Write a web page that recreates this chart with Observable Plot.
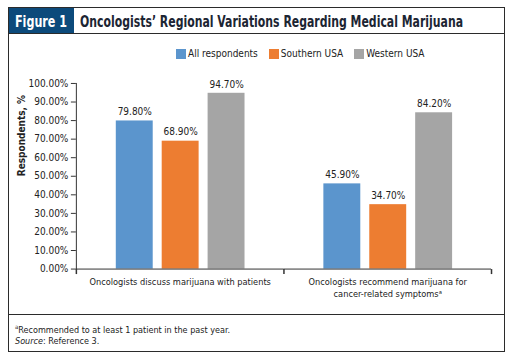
<!DOCTYPE html>
<html><head><meta charset="utf-8">
<script src="https://cdn.jsdelivr.net/npm/d3@7"></script>
<script src="https://cdn.jsdelivr.net/npm/@observablehq/plot@0.6"></script>
<style>
html,body{margin:0;padding:0;background:#fff;}
body{width:513px;height:358px;position:relative;overflow:hidden;font-family:"DejaVu Sans Condensed",sans-serif;color:#222;}
#frame{position:absolute;left:8px;top:7px;width:497px;height:345px;box-sizing:border-box;border:1px solid #2b2b2b;}
#header{position:absolute;left:0;top:0;right:0;height:25px;border-bottom:1px solid #2b2b2b;}
#badge{position:absolute;left:0;top:0;width:65px;height:25px;background:#0c4a7b;}
#badgeText{position:absolute;left:6px;top:4px;color:#fff;font-weight:bold;font-size:16px;white-space:nowrap;transform-origin:0 0;}
#title{position:absolute;left:71px;top:4px;font-weight:bold;font-size:16px;color:#1c2533;white-space:nowrap;transform-origin:0 0;}
#legend{position:absolute;left:167px;top:40px;display:flex;font-size:10px;white-space:nowrap;}
.item{display:flex;align-items:center;margin-right:11px;}
.sw{width:10px;height:10px;margin-right:2px;}
#chart{position:absolute;left:0;top:54px;}
#footer{position:absolute;left:0;right:0;top:306px;border-top:1px solid #2b2b2b;font-size:9px;padding-left:6px;}
#footer div{height:14px;line-height:14px;white-space:nowrap;}
#footer .f1{margin-top:5px;}
</style></head>
<body>
<div id="frame">
  <div id="header"><div id="badge"><span id="badgeText">Figure 1</span></div><span id="title">Oncologists’ Regional Variations Regarding Medical Marijuana</span></div>
  <div id="legend"></div>
  <div id="chart"></div>
  <div id="footer"><div class="f1"><sup style="font-size:6px">a</sup>Recommended to at least 1 patient in the past year.</div><div><i>Source</i>: Reference 3.</div></div>
</div>
<script>
const groups = ["Oncologists discuss marijuana with patients", "Oncologists recommend marijuana for\ncancer-related symptomsᵃ"];
const series = ["All respondents", "Southern USA", "Western USA"];
const colors = ["#5b95cd", "#ed7d31", "#a5a5a5"];
const allRespondents = [0.798, 0.459];
const southernUSA = [0.689, 0.347];
const westernUSA = [0.947, 0.842];
const yTicks = [0, 0.1, 0.2, 0.3, 0.4, 0.5, 0.6, 0.7, 0.8, 0.9, 1.0];

const seriesValues = [allRespondents, southernUSA, westernUSA];
const rows = groups.flatMap((g, i) => series.map((s, j) => ({group: g, series: s, value: seriesValues[j][i]})));

// fit condensed header texts to the reference widths
function fitWidth(el, w) { const r = el.getBoundingClientRect().width; el.style.transform = `scaleX(${w / r})`; }
fitWidth(document.getElementById("title"), 383);
fitWidth(document.getElementById("badgeText"), 52);

const legend = document.getElementById("legend");
series.forEach((s, j) => {
  const it = document.createElement("div"); it.className = "item";
  it.innerHTML = `<span class="sw" style="background:${colors[j]}"></span><span>${s}</span>`;
  legend.appendChild(it);
});

const tickSym = {draw(ctx, size) { ctx.moveTo(0, 0); ctx.lineTo(0, 5); }};
const font = '"DejaVu Sans Condensed",sans-serif';

const chart = Plot.plot({
  width: 496, height: 251,
  marginLeft: 66, marginRight: 13, marginTop: 21, marginBottom: 44,
  style: {fontFamily: font, fontSize: "10px", color: "#222", background: "transparent", overflow: "visible"},
  fx: {domain: groups, padding: 0, label: null},
  x: {domain: series, paddingInner: 0.2, paddingOuter: 0.844, axis: null},
  y: {domain: [0, 1], axis: null},
  color: {domain: series, range: colors},
  marks: [
    Plot.barY(rows, {fx: "group", x: "series", y: "value", fill: "series"}),
    Plot.text(rows, {fx: "group", x: "series", y: "value", text: d => d3.format(".2%")(d.value), dy: -9, fill: "#222", fontSize: 10}),
    Plot.axisY({ticks: yTicks, tickFormat: ".2%", tickSize: 5, tickPadding: 3, label: null, stroke: "#333", fill: "#222"}),
    Plot.frame({anchor: "left", stroke: "#333", facetAnchor: "left"}),
    Plot.ruleY([0], {stroke: "#333"}),
    Plot.dot(groups, {fx: d => d, frameAnchor: "bottom-left", symbol: tickSym, stroke: "#333", fill: "none"}),
    Plot.dot([groups[groups.length - 1]], {fx: d => d, frameAnchor: "bottom-right", symbol: tickSym, stroke: "#333", fill: "none"}),
    Plot.axisFx({anchor: "bottom", tickSize: 0, tickPadding: 8, label: null, lineHeight: 1.25, fill: "#222", fontSize: 9.2}),
    Plot.text(["Respondents, %"], {frameAnchor: "left", rotate: -90, dx: -55, fontWeight: "bold", fill: "#222", fontSize: 10, facetAnchor: "left"})
  ]
});
document.getElementById("chart").appendChild(chart);
</script>
</body></html>
